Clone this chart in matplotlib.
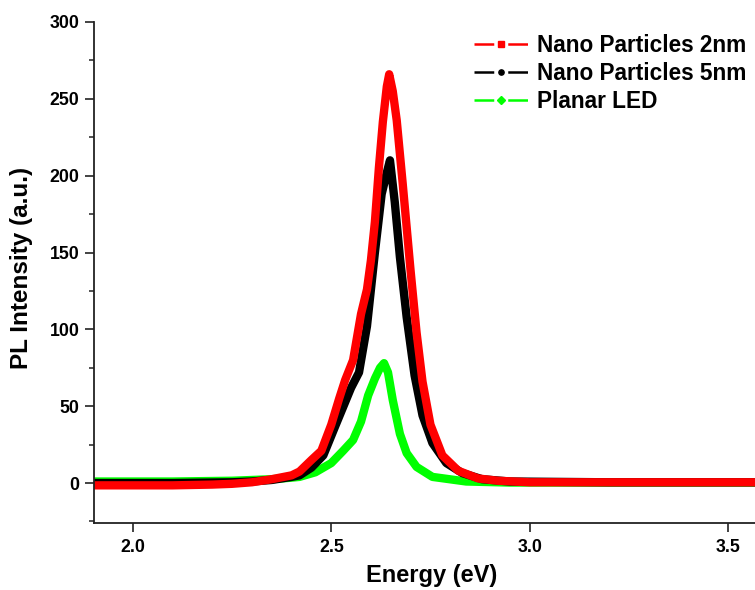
import matplotlib
matplotlib.use("Agg")
import matplotlib.pyplot as plt
from matplotlib.lines import Line2D
from matplotlib.ticker import MultipleLocator

plt.rcParams['font.family'] = ['Liberation Sans', 'DejaVu Sans']
plt.rcParams['font.weight'] = 'bold'

# ---- data ----
e_red = [1.90, 2.00, 2.10, 2.20, 2.25, 2.30, 2.35, 2.40, 2.42, 2.45, 2.475, 2.50, 2.52,
         2.535, 2.555, 2.575, 2.59, 2.60, 2.61, 2.62, 2.63, 2.64, 2.646, 2.655, 2.665,
         2.68, 2.70, 2.715, 2.73, 2.75, 2.78, 2.82, 2.87, 2.92, 3.00, 3.20, 3.40, 3.57]
i_red = [-1.5, -1.5, -1.5, -1, -0.5, 0.5, 2.5, 5, 7.5, 15, 21, 38, 55,
         67, 80, 110, 126, 145, 170, 205, 235, 258, 266, 255, 236,
         195, 138, 98, 66, 38, 18, 8, 3, 1.5, 0.5, 0.5, 0.5, 0.5]

e_black = [1.90, 2.10, 2.25, 2.30, 2.35, 2.40, 2.42, 2.45, 2.48, 2.51, 2.55, 2.57, 2.59,
           2.61, 2.627, 2.64, 2.648, 2.66, 2.673, 2.69, 2.71, 2.73, 2.755, 2.79, 2.83,
           2.88, 2.95, 3.20, 3.57]
i_black = [0, 0, 0.5, 1, 2, 4, 5, 10, 18, 37, 62, 72, 102,
           150, 188, 202, 210, 183, 147, 108, 70, 44, 26, 13, 6.5,
           2.5, 1, 0.5, 0.5]

e_green = [1.90, 2.10, 2.25, 2.30, 2.35, 2.40, 2.42, 2.46, 2.50, 2.53, 2.555, 2.575, 2.593,
           2.61, 2.623, 2.633, 2.643, 2.655, 2.673, 2.69, 2.715, 2.755, 2.84, 2.95, 3.20, 3.57]
i_green = [1, 1, 1.5, 2, 2.5, 3.5, 4, 7, 13, 21, 28, 40, 57,
           68, 75, 78, 72, 54, 32, 19.5, 10.5, 4, 1, 0.3, 0.3, 0.3]

labels = ["Nano Particles 2nm", "Nano Particles 5nm", "Planar LED"]
x_ticks = [2.0, 2.5, 3.0, 3.5]
y_ticks = [0, 50, 100, 150, 200, 250, 300]

RED, BLACK, GREEN = '#ff0000', '#000000', '#00ff00'

fig = plt.figure(figsize=(7.55, 5.90), dpi=100)
ax = fig.add_axes([94/755, 1 - 523/590, 661/755, (523 - 22)/590])

lw = 6.0
ax.plot(e_green, i_green, color=GREEN, lw=lw, solid_joinstyle='round', solid_capstyle='round')
ax.plot(e_black, i_black, color=BLACK, lw=lw, solid_joinstyle='round', solid_capstyle='round')
ax.plot(e_red, i_red, color=RED, lw=lw, solid_joinstyle='round', solid_capstyle='round')

ax.set_xlim(1.902, 3.568)
ax.set_ylim(-26, 300)
ax.set_xticks(x_ticks)
ax.set_xticklabels([f"{v:.1f}" for v in x_ticks])
ax.set_yticks(y_ticks)
ax.yaxis.set_minor_locator(MultipleLocator(25))

for s in ['top', 'right']:
    ax.spines[s].set_visible(False)
for s in ['left', 'bottom']:
    ax.spines[s].set_linewidth(1.3)
    ax.spines[s].set_color('#222222')

ax.tick_params(axis='both', which='major', direction='out', length=6.5, width=1.2,
               labelsize=12.8, colors='#222222', labelcolor='black')
ax.tick_params(axis='y', which='minor', direction='out', length=3.6, width=1.1, colors='#222222')
ax.tick_params(axis='x', which='major', pad=5)
ax.tick_params(axis='y', which='major', pad=4)
for t in ax.get_xticklabels() + ax.get_yticklabels():
    t.set_fontweight('bold')

ax.set_xlabel("Energy (eV)", fontsize=17, fontweight='bold')
ax.set_ylabel("PL Intensity (a.u.)", fontsize=17.5, fontweight='bold')
ax.xaxis.set_label_coords(338/661, (523 - 564)/501)
ax.yaxis.set_label_coords((33 - 94)/661, (523 - 268)/501)

handles = [
    Line2D([], [], color=RED, lw=1.8, linestyle=(0, (7.9, 5.6)), marker='s', markersize=4),
    Line2D([], [], color=BLACK, lw=1.8, linestyle=(0, (7.9, 5.6)), marker='o', markersize=3.8),
    Line2D([], [], color=GREEN, lw=1.8, linestyle=(0, (7.9, 5.6)), marker='D', markersize=3.8),
]
leg = fig.legend(handles, labels, loc='upper left', bbox_to_anchor=(474/755, 1 - 34/590),
                 frameon=False, fontsize=16.3, handlelength=2.4, handletextpad=0.4,
                 labelspacing=0.22, borderpad=0, borderaxespad=0, numpoints=1)
for t in leg.get_texts():
    t.set_fontweight('bold')

fig.savefig("out.png", dpi=100)
